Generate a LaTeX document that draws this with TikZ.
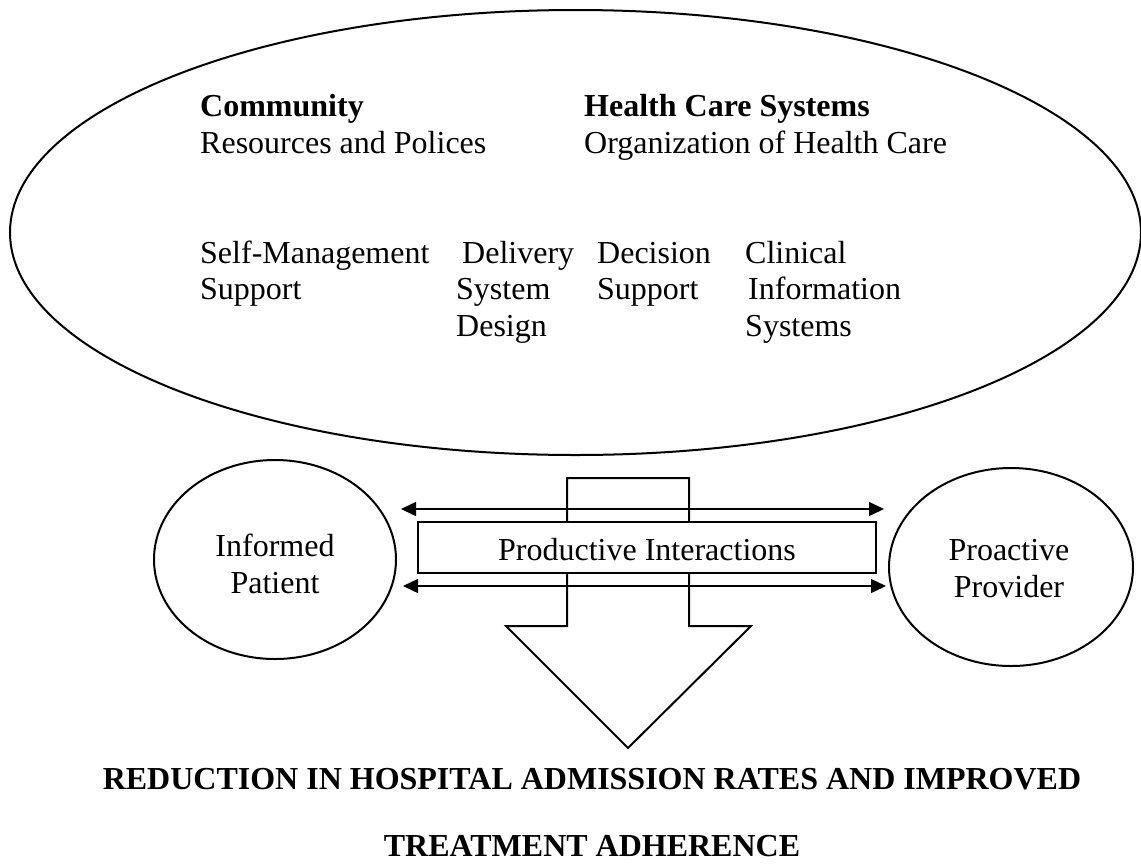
\documentclass[tikz,border=0pt]{standalone}
\usepackage{fontspec}
\setmainfont{Liberation Serif}
\usetikzlibrary{shapes.geometric,arrows.meta}
\begin{document}
\begin{tikzpicture}[x=1pt,y=-1pt,
  txt/.style={anchor=base west,inner sep=0pt,font=\fontsize{32}{37}\selectfont},
  ctxt/.style={anchor=base,inner sep=0pt,font=\fontsize{32}{37}\selectfont},
  btxt/.style={anchor=base,inner sep=0pt,font=\fontsize{32}{37}\selectfont\bfseries},
  oval/.style={draw,ellipse,line width=2pt,inner sep=0pt},
  blockarrow/.style={draw,line width=2pt,fill=white,line join=miter},
  piabox/.style={draw,line width=2pt,fill=white,minimum width=458pt,minimum height=51pt,inner sep=0pt},
  dbl/.style={line width=1.4pt,{Triangle[length=15pt,width=14pt]}-{Triangle[length=15pt,width=14pt]}}]
\useasboundingbox (0,0) rectangle (1141,863);
\fill[white] (0,0) rectangle (1141,863);

% big system ellipse
\node[oval,minimum width=1131pt,minimum height=445pt] (sys) at (575.5,232.5) {};
\node[txt] (comm) at (200,116) {\bfseries Community};
\node[txt] (res) at (200,153) {Resources and Polices};
\node[txt] (hcs) at (584,116) {\bfseries Health Care Systems};
\node[txt] (org) at (584,153) {Organization of Health Care};
\node[txt] (sm1) at (200,263) {Self-Management};
\node[txt] (sm2) at (200,299) {Support};
\node[txt] (ds1) at (462,263) {Delivery};
\node[txt] (ds2) at (456,299) {System};
\node[txt] (ds3) at (456,336) {Design};
\node[txt] (dc1) at (597,263) {Decision};
\node[txt] (dc2) at (597,299) {Support};
\node[txt] (ci1) at (745,263) {Clinical};
\node[txt] (ci2) at (748,299) {Information};
\node[txt] (ci3) at (745,336) {Systems};

% block arrow
\draw[blockarrow] (567,478) -- (689,478) -- (689,626) -- (751,626) -- (628,748) -- (506,626) -- (567,626) -- cycle;

% side ellipses
\node[oval,minimum width=242pt,minimum height=199pt] (pat) at (275,559.5) {};
\node[ctxt] (pat1) at (275,556) {Informed};
\node[ctxt] (pat2) at (275,593) {Patient};
\node[oval,minimum width=244pt,minimum height=198pt] (prov) at (1011,567) {};
\node[ctxt] (prov1) at (1009,560) {Proactive};
\node[ctxt] (prov2) at (1009,597) {Provider};

% productive interactions box
\node[piabox] (pia) at (647,547.5) {};
\node[ctxt] (piat) at (647,560) {Productive Interactions};

% two-headed arrows
\coordinate (a1l) at (401,509);
\coordinate (a1r) at (884,509);
\coordinate (a2l) at (403,586);
\coordinate (a2r) at (886,586);
\draw[dbl] (a1l) -- (a1r);
\draw[dbl] (a2l) -- (a2r);

% outcome
\node[btxt] (out1) at (592,789) {REDUCTION IN HOSPITAL ADMISSION RATES AND IMPROVED};
\node[btxt] (out2) at (592,856) {TREATMENT ADHERENCE};
\end{tikzpicture}
\end{document}
